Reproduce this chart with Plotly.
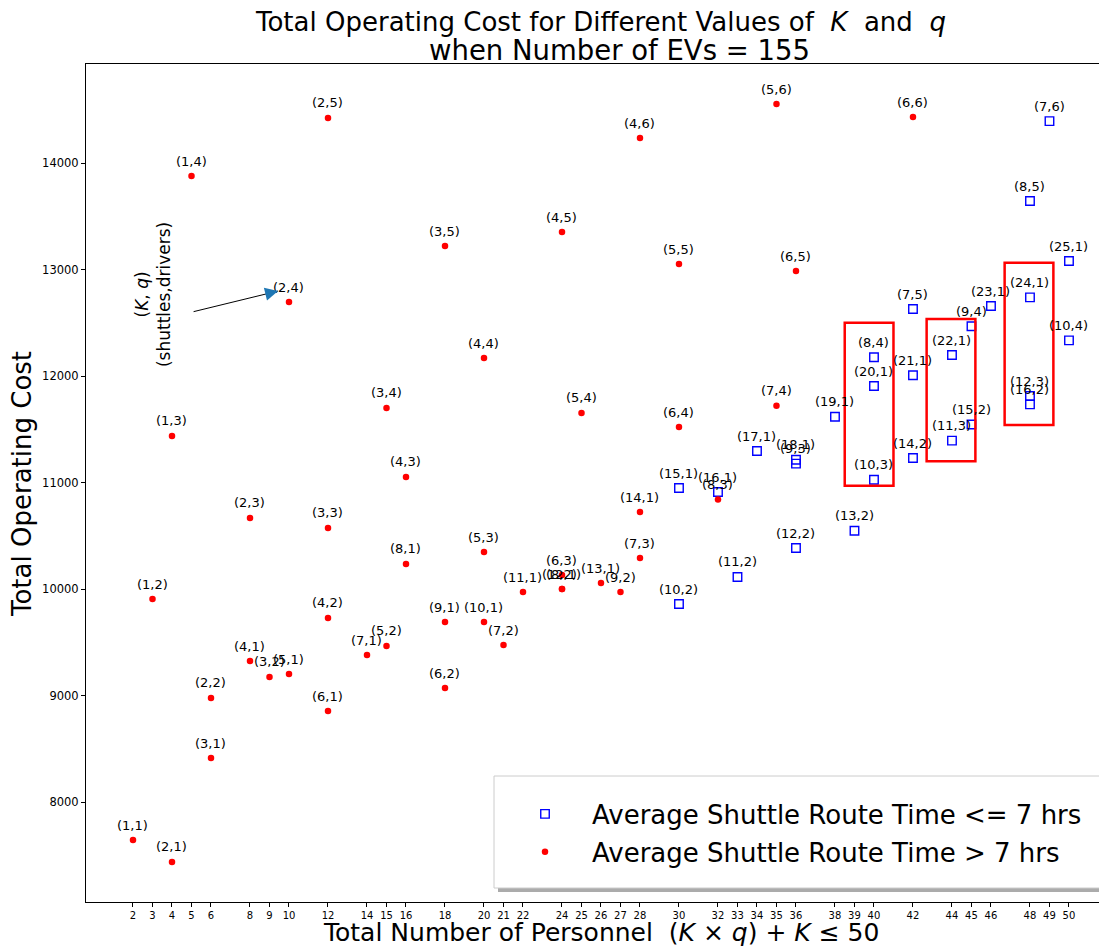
import plotly.graph_objects as go

# ---- data: (K, q, total operating cost) ----
# Average shuttle route time <= 7 hrs
blue_K = [15, 16, 10, 11, 12, 17, 18, 9, 13, 19, 10, 20, 8, 7, 21, 14, 22, 11, 15, 9, 23, 24, 12, 16, 25, 10, 8, 7]
blue_q = [1, 1, 2, 2, 2, 1, 1, 3, 2, 1, 3, 1, 4, 5, 1, 2, 1, 3, 2, 4, 1, 1, 3, 2, 1, 4, 5, 6]
blue_cost = [10948, 10911, 9859, 10113, 10385, 11296, 11214, 11177, 10547, 11618, 11026, 11906, 12176,
             12629, 12007, 11230, 12197, 11393, 11545, 12467, 12657, 12739, 11812, 11734, 13080, 12335,
             13643, 14394]

# Average shuttle route time > 7 hrs
red_K = [1, 2, 1, 1, 1, 2, 3, 2, 4, 3, 5, 2, 2, 3, 4, 6, 7, 5, 3, 4, 8, 3, 9, 6, 4, 5, 10, 7, 11,
         4, 6, 8, 12, 5, 13, 9, 4, 14, 7, 5, 6, 8, 5, 6, 7, 6]
red_q = [1, 1, 2, 3, 4, 2, 1, 3, 1, 2, 1, 4, 5, 3, 2, 1, 1, 2, 4, 3, 1, 5, 1, 2, 4, 3, 1, 2, 1,
         5, 3, 2, 1, 4, 1, 2, 6, 1, 3, 5, 4, 3, 6, 5, 4, 6]
red_cost = [7643, 7437, 9906, 11437, 13878, 8977, 8413, 10667, 9324, 9174, 9202, 12695, 14423, 10573,
            9728, 8854, 9380, 9465, 11700, 11052, 10235, 13221, 9690, 9070, 12169, 10347, 9690, 9474,
            9972, 13352, 10131, 10000, 10000, 11653, 10056, 9972, 14235, 10723, 10291, 13052, 11521,
            10840, 14554, 12986, 11721, 14432]

# highlighted groups (x0, x1, y0, y1) in data units
highlight_boxes = [(38.5, 41.0, 10970, 12500), (42.7, 45.2, 11200, 12535), (46.7, 49.2, 11540, 13064)]

y_ticks = [8000, 9000, 10000, 11000, 12000, 13000, 14000]

# ---- derived ----
def personnel(K, q):
    return [k * qq + k for k, qq in zip(K, q)]

blue_x = personnel(blue_K, blue_q)
red_x = personnel(red_K, red_q)
blue_lbl = [f"({k},{qq})" for k, qq in zip(blue_K, blue_q)]
red_lbl = [f"({k},{qq})" for k, qq in zip(red_K, red_q)]
x_ticks = sorted(set(blue_x + red_x))

FONT = "DejaVu Sans"

fig = go.Figure()
fig.add_trace(go.Scatter(
    x=blue_x, y=blue_cost, mode="markers",
    marker=dict(symbol="square-open", size=8.5, color="#0000ff", line=dict(width=1.4, color="#0000ff")),
    name="Average Shuttle Route Time <= 7 hrs", legendgroup="a", cliponaxis=False,
))
fig.add_trace(go.Scatter(
    x=red_x, y=red_cost, mode="markers",
    marker=dict(symbol="circle", size=6.5, color="#ff0000"),
    name="Average Shuttle Route Time > 7 hrs", legendgroup="b", cliponaxis=False,
))

# page body has an 8px margin: figure is offset by OFF pixels on screen
OFF = 8
SW, SH = 1107, 950
L, R, T, B = 86 - OFF, 0, 64 - OFF, 48
W, H = SW - OFF, SH - OFF
pw, ph = W - L - R, H - T - B

def px(xs):  # screen x -> paper
    return (xs - OFF - L) / pw

def py(ys):  # screen y -> paper
    return (H - B - (ys - OFF)) / ph

shapes = []
for x0, x1, y0, y1 in highlight_boxes:
    shapes.append(dict(type="rect", xref="x", yref="y", x0=x0, x1=x1, y0=y0, y1=y1,
                       line=dict(color="#ff0000", width=2.5), fillcolor="rgba(0,0,0,0)"))

shapes.append(dict(type="rect", xref="paper", yref="paper", x0=px(498), x1=px(1108), y0=py(892), y1=py(780),
                   line=dict(width=0), fillcolor="rgba(150,150,150,0.8)", layer="above"))
shapes.append(dict(type="rect", xref="paper", yref="paper", x0=px(494), x1=px(1104), y0=py(888), y1=py(776),
                   line=dict(width=1, color="#cccccc"), fillcolor="rgba(255,255,255,1)", layer="above"))

annotations = []
# point labels (K,q) placed just above each marker
for xs, ys, lbls in ((blue_x, blue_cost, blue_lbl), (red_x, red_cost, red_lbl)):
    for xv, yv, t in zip(xs, ys, lbls):
        annotations.append(dict(text=t, xref="x", yref="y", x=xv, y=yv, yshift=15, showarrow=False,
                                xanchor="center", yanchor="middle",
                                font=dict(family=FONT, size=13, color="black")))

annotations += [
    dict(text="Total Operating Cost for Different Values of  <i>K</i>  and  <i>q</i>", xref="paper", yref="paper",
         x=px(600), y=py(22), showarrow=False, font=dict(family=FONT, size=26, color="black"),
         xanchor="center", yanchor="middle"),
    dict(text="when Number of EVs = 155", xref="paper", yref="paper",
         x=px(619), y=py(50), showarrow=False, font=dict(family=FONT, size=27.5, color="black"),
         xanchor="center", yanchor="middle"),
    dict(text="Total Operating Cost", xref="paper", yref="paper", x=px(22), y=py(484), textangle=-90,
         showarrow=False, font=dict(family=FONT, size=26, color="black"), xanchor="center", yanchor="middle"),
    dict(text="Total Number of Personnel  (<i>K</i> × <i>q</i>) + <i>K</i> ≤ 50", xref="paper", yref="paper",
         x=px(601), y=py(932), showarrow=False, font=dict(family=FONT, size=25, color="black"),
         xanchor="center", yanchor="middle"),
    dict(text="(<i>K</i>, <i>q</i>)<br>(shuttles,drivers)", xref="x", yref="y", x=3.03, y=12761,
         textangle=-90, showarrow=False, font=dict(family=FONT, size=17, color="black")),
    # arrow shaft
    dict(text="", xref="x", yref="y", x=9.44, y=12798, axref="x", ayref="y", ax=5.03, ay=12601,
         showarrow=True, arrowhead=0, arrowwidth=1, arrowcolor="black", standoff=0),
    # arrow head
    dict(text="", xref="x", yref="y", x=9.44, y=12798, ax=-11.7, ay=2.9, showarrow=True, arrowhead=2,
         arrowsize=2.6, arrowwidth=1, arrowcolor="#1f77b4", standoff=0),
]

fig.update_layout(
    width=W, height=H, margin=dict(l=L, r=R, t=T, b=B, autoexpand=False),
    paper_bgcolor="white", plot_bgcolor="white",
    font=dict(family=FONT, color="black"),
    shapes=shapes, annotations=annotations,
    showlegend=True,
    legend=dict(x=px(498), y=py(833), xanchor="left", yanchor="middle",
                bgcolor="rgba(0,0,0,0)", borderwidth=0, font=dict(family=FONT, size=26, color="black"),
                itemwidth=84, tracegroupgap=1),
    xaxis=dict(range=[-0.41, 51.95], tickmode="array", tickvals=x_ticks, ticktext=[str(v) for v in x_ticks],
               ticks="outside", ticklen=4, tickcolor="black", tickfont=dict(family=FONT, size=10, color="black"),
               showgrid=False, zeroline=False, showline=True, linecolor="black", linewidth=1, mirror=True),
    yaxis=dict(range=[7061, 14930], tickmode="array", tickvals=y_ticks, ticktext=[str(v) for v in y_ticks],
               ticks="outside", ticklen=4, tickcolor="black", tickfont=dict(family=FONT, size=11.5, color="black"),
               showgrid=False, zeroline=False, showline=True, linecolor="black", linewidth=1, mirror=False),
)

fig.write_html("out.html")
